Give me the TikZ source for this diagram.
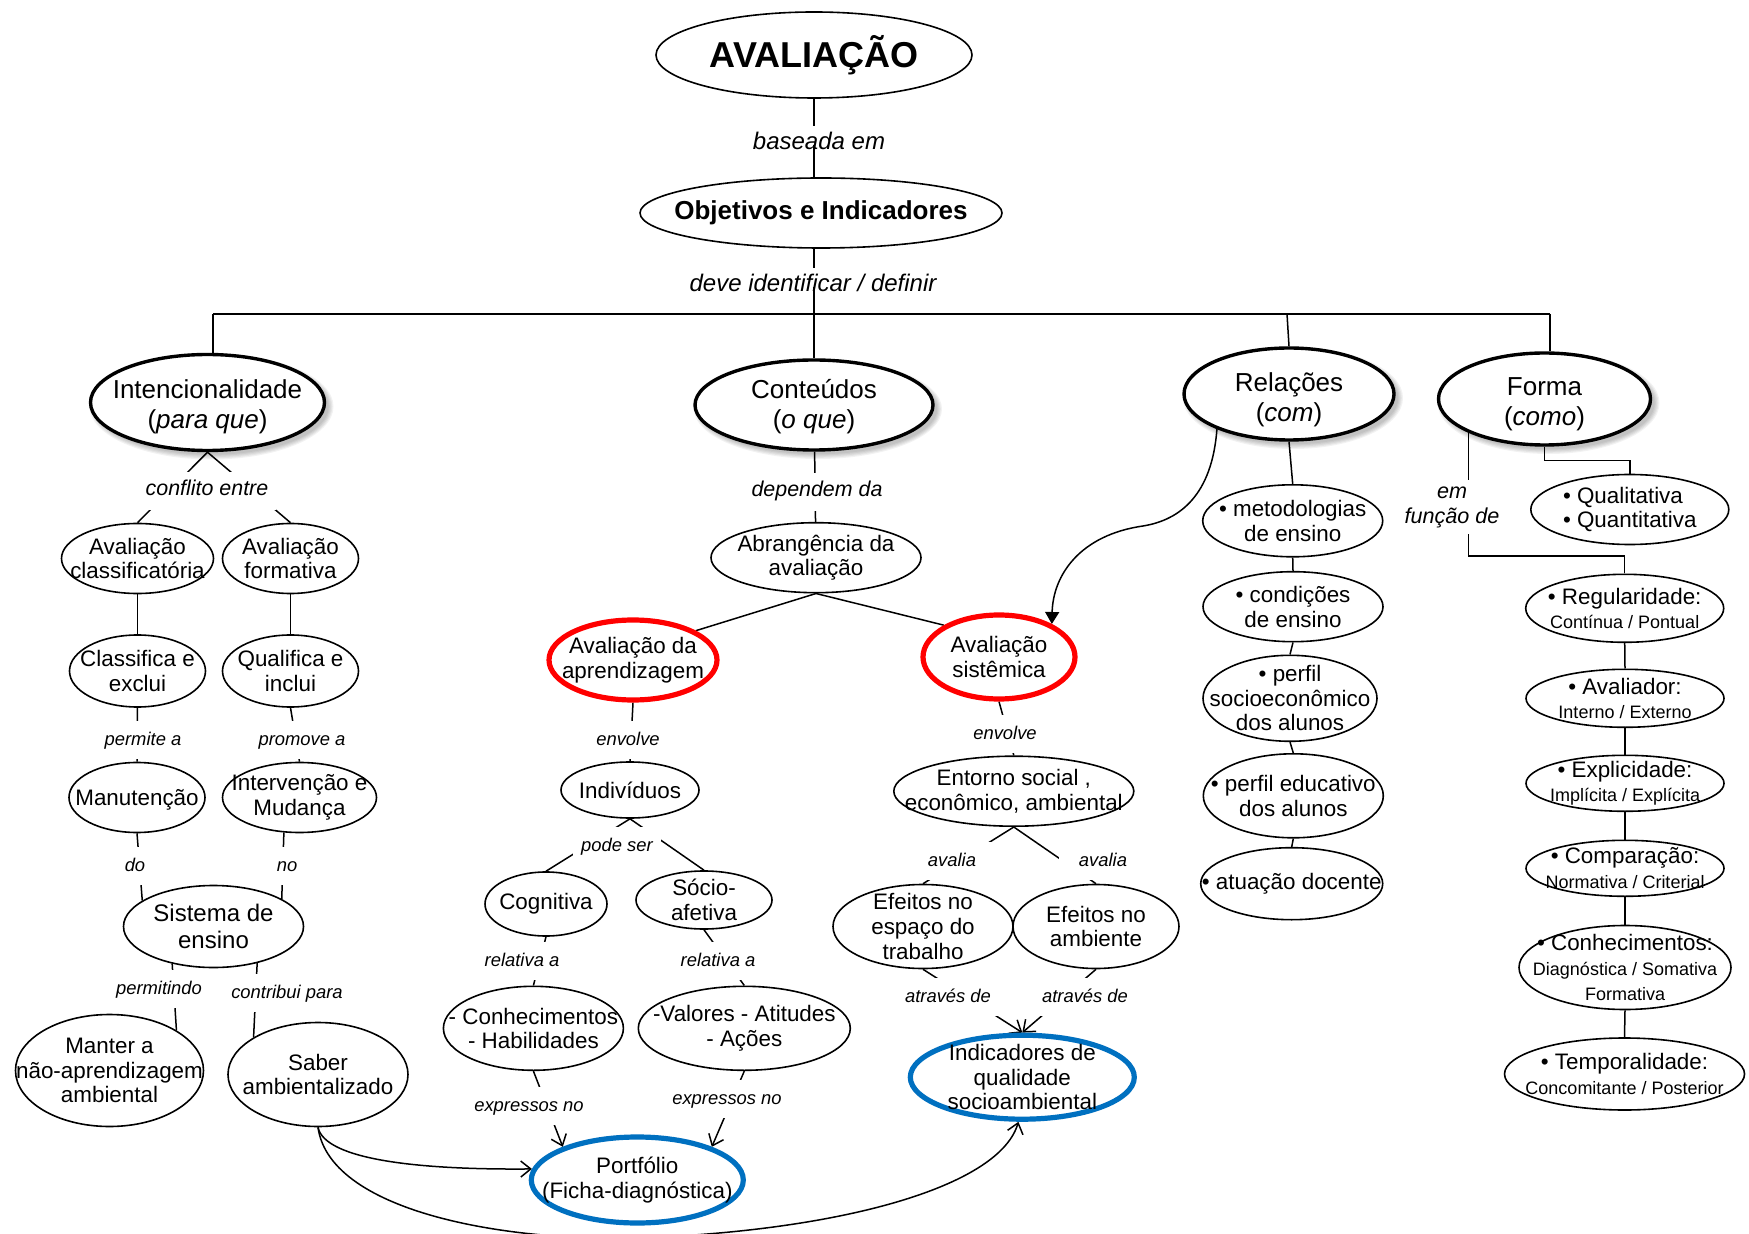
\documentclass[tikz,border=0pt]{standalone}
\usepackage{fontspec}
\setmainfont{Liberation Sans}
\usetikzlibrary{shapes.geometric,arrows.meta}
\pgfdeclarelayer{bg}
\pgfsetlayers{bg,main}
\definecolor{cred}{HTML}{FF0000}
\definecolor{cblue}{HTML}{0070C0}
\tikzset{
 ell/.style={ellipse,draw,fill=white,inner sep=0pt,line width=0.8pt},
 cat/.style={line width=1.7pt},
 redb/.style={draw=cred,line width=2.6pt},
 blueb/.style={draw=cblue,line width=2.6pt},
 txt/.style={align=center,inner sep=0pt,font=\fontsize{11.2}{12.3}\selectfont},
 cattxt/.style={font=\fontsize{13}{15}\selectfont},
 lab/.style={fill=white,inner xsep=4pt,inner ysep=4.5pt,text height=0.75em,text depth=0.25em,font=\itshape\fontsize{9.2}{10}\selectfont},
 labmid/.style={font=\itshape\fontsize{10.7}{12}\selectfont},
 labtop/.style={font=\itshape\fontsize{12}{14}\selectfont},
 labm/.style={fill=white,align=center,inner xsep=4pt,inner ysep=3pt,font=\itshape\fontsize{10.8}{12.5}\selectfont},
 conn/.style={line width=0.75pt},
 oarr/.style={-{Straight Barb[length=5pt,width=8pt]}},
}
\newcommand\CN[7][]{%
 \node[ell,#1,minimum width=#4pt,minimum height=#5pt] (#2) at (#3) {};%
 \node[txt,#6] (#2t) at (#2.center) {#7};}
\newcommand\smalltxt[1]{{\fontsize{9}{10}\selectfont #1}}
% soft shadow of a thick category ellipse: node name, x radius (pt), y radius (pt)
\newcommand\SHD[3]{%
 \foreach \k in {0,1,2,3,4}{%
  \fill[black,opacity=0.05] ([shift={(2pt,-2pt)}]#1.center) ellipse [x radius={#2pt+2.5pt-\k*0.6pt}, y radius={#3pt+2.5pt-\k*0.6pt}];}}
\begin{document}
\begin{tikzpicture}[x=0.5pt,y=-0.5pt]
\begin{pgfonlayer}{bg}
\fill[white] (0,0) rectangle (1749,1234);
\end{pgfonlayer}
\useasboundingbox (0,0) rectangle (1749,1234);

% ---------- concepts ----------
\CN{av}{814,55}{158}{43}{font=\bfseries\fontsize{18}{20}\selectfont}{AVALIAÇÃO}
\CN{obj}{821,213}{181}{35}{font=\bfseries\fontsize{13}{15}\selectfont}{Objetivos e Indicadores}
\CN[cat]{intenc}{207.5,402.5}{117}{48}{cattxt,yshift=-2pt}{Intencionalidade\\(\textit{para que})}
\CN[cat]{cont}{814,405}{119}{45}{cattxt,yshift=-1pt}{Conteúdos\\(\textit{o que})}
\CN[cat]{rel}{1289,394}{105}{46}{cattxt,yshift=-3pt}{Relações\\(\textit{com})}
\CN[cat]{forma}{1544.5,399}{106}{46}{cattxt,yshift=-2.5pt}{Forma\\(\textit{como})}

\CN{avclass}{137.5,558.5}{76}{35}{}{Avaliação\\classificatória}
\CN{avform}{290.5,558.5}{68}{35}{}{Avaliação\\formativa}
\CN{classif}{137.5,671}{68}{36}{}{Classifica e\\exclui}
\CN{qualif}{290.5,671}{68}{36}{}{Qualifica e\\inclui}
\CN{manut}{137,797.5}{68}{35}{yshift=-1pt}{Manutenção}
\CN{interv}{299.5,797.5}{77}{35}{}{Intervenção e\\Mudança}
\CN{sistema}{213.5,926.5}{90}{41}{font=\fontsize{12}{13.5}\selectfont}{Sistema de\\ensino}
\CN{manter}{109.5,1070.5}{94}{56}{}{Manter a\\não-aprendizagem\\ambiental}
\CN{saber}{318,1074.5}{90}{52}{}{Saber\\ambientalizado}

\CN{abr}{816,557.7}{105}{35}{}{Abrangência da\\avaliação}
\CN[redb]{avaprend}{633,660}{84}{40}{}{Avaliação da\\aprendizagem}
\CN[redb]{avsist}{999,657}{76}{42}{}{Avaliação\\sistêmica}
\CN{indiv}{630,790}{69}{28}{}{Indivíduos}
\CN{cogn}{546,904}{61}{32}{}{Cognitiva}
\CN{socio}{704,900}{68}{29}{}{Sócio-\\afetiva}
\CN{conhec}{533.4,1028.3}{90}{42}{}{- Conhecimentos\\- Habilidades}
\CN{valores}{744.3,1028.3}{106}{42}{}{-Valores - Atitudes\\- Ações}
\CN[blueb]{portf}{637.3,1180}{106}{43}{}{Portfólio\\(Ficha-diagnóstica)}
\CN{entorno}{1013.8,791.2}{120}{35}{}{Entorno social ,\\econômico, ambiental}
\CN{ef1}{923,926.5}{90}{42}{}{Efeitos no\\espaço do\\trabalho}
\CN{ef2}{1096,926.5}{83}{42}{}{Efeitos no\\ambiente}
\CN[blueb]{ind}{1022.3,1077.2}{112}{42}{}{Indicadores de\\qualidade\\socioambiental}

\CN{metod}{1292.7,520.8}{90}{36}{}{• metodologias\\de ensino}
\CN{cond}{1293,606.7}{90}{35}{}{• condições\\de ensino}
\CN{psocio}{1290,698.3}{87}{43}{}{• perfil\\socioeconômico\\dos alunos}
\CN{pedu}{1293.3,795.8}{90}{42}{}{• perfil educativo\\dos alunos}
\CN{atua}{1291.7,883.7}{91}{36}{}{• atuação docente}

\CN{qual}{1629.8,509.5}{99}{35}{align=left}{• Qualitativa\\• Quantitativa}
\CN{reg}{1624.7,608.3}{99}{34}{}{• Regularidade:\\\smalltxt{Contínua / Pontual}}
\CN{aval}{1625,698.3}{99}{29}{}{• Avaliador:\\\smalltxt{Interno / Externo}}
\CN{expl}{1625,783.3}{99}{28}{}{• Explicidade:\\\smalltxt{Implícita / Explícita}}
\CN{comp}{1625,868.3}{99}{28}{}{• Comparação:\\\smalltxt{Normativa / Criterial}}
\CN{conh2}{1625,967.5}{106}{42}{}{• Conhecimentos:\\\smalltxt{Diagnóstica / Somativa}\\\smalltxt{Formativa}}
\CN{temp}{1624.5,1074}{120}{36}{}{• Temporalidade:\\\smalltxt{Concomitante / Posterior}}

% ---------- linking phrases ----------
\node[lab,labtop,fill=none] (bas) at (819,145) {baseada em};
\node[lab,labtop,fill=none] (dev) at (813,287) {deve identificar / definir};
\node[lab,labmid] (confl) at (207,491) {conflito entre};
\node[lab] (perm) at (143,740) {permite a};
\node[lab] (prom) at (302,740) {promove a};
\node[lab] (ldo) at (135,866) {do};
\node[lab] (lno) at (287,866) {no};
\node[lab] (permt) at (159,989) {permitindo};
\node[lab] (contr) at (287,993) {contribui para};
\node[lab,labmid] (dep) at (817,492) {dependem da};
\node[lab] (env1) at (628,740) {envolve};
\node[lab] (pode) at (617,846) {pode ser};
\node[lab] (rela1) at (522,961) {relativa a};
\node[lab] (rela2) at (718,961) {relativa a};
\node[lab] (exp1) at (529,1106) {expressos no};
\node[lab] (exp2) at (727,1099) {expressos no};
\node[lab] (env2) at (1005,734) {envolve};
\node[lab,inner xsep=10pt] (ava1) at (952,861) {avalia};
\node[lab,inner xsep=10pt] (ava2) at (1103,861) {avalia};
\node[lab] (atr1) at (948,997) {através de};
\node[lab] (atr2) at (1085,997) {através de};
\node[labm] (func) at (1452,507) {em\\função de};

\coordinate (bl) at (213,314);
\coordinate (br) at (1550,314);
\coordinate (b3) at (1287,314);
\coordinate (fk) at (1470,556);

% ---------- shadows and connectors ----------
\begin{pgfonlayer}{bg}
\SHD{intenc}{58.5}{24}
\SHD{cont}{59.5}{22.5}
\SHD{rel}{52.5}{23}
\SHD{forma}{53}{23}

\draw[conn] (av.south) -- (av.south |- bas.north);
\draw[conn] (av.south |- bas.center) -- (av.south |- obj.north);
\draw[conn] (cont.north |- obj.south) -- (cont.north |- dev.north);
\draw[conn] (cont.north |- dev.center) -- (cont.north);
\draw[line width=1.1pt] (bl) -- (br);
\draw[conn] (bl) -- (bl |- intenc.north);
\draw[conn] (b3) -- (rel.north);
\draw[conn] (br) -- (br |- forma.north);

\draw[conn] (intenc.south) -- (avclass.north);
\draw[conn] (intenc.south) -- (avform.north);
\draw[conn] (avclass) -- (classif);
\draw[conn] (avform) -- (qualif);
\draw[conn] (classif) -- (manut);
\draw[conn] (qualif.south) -- (interv.north);
\draw[conn] (manut.south) -- (sistema.160);
\draw[conn] (interv.246) -- (sistema.22);
\draw[conn] (sistema.222) -- (manter.31);
\draw[conn] (sistema.320) -- (saber.150);
\draw[conn,oarr] (saber.south) .. controls (325,1160) and (420,1170) .. (portf.174);
\draw[conn,oarr] (saber.south) .. controls (330,1215) and (520,1245) .. (660,1237) .. controls (850,1228) and (1000,1185) .. (ind.265);

\draw[conn] (cont) -- (abr);
\draw[conn] (abr.south) -- (avaprend.25);
\draw[conn] (abr.south) -- (avsist.150);
\draw[conn] (avaprend.south) -- (indiv.north);
\draw[conn] (indiv.south) -- (cogn.north);
\draw[conn] (indiv.south) -- (socio.north);
\draw[conn] (cogn.south) -- (conhec.north);
\draw[conn] (socio.south) -- (valores.north);
\draw[conn,oarr] (conhec.south) -- (portf.156);
\draw[conn,oarr] (valores.south) -- (portf.24);
\draw[conn] (avsist.south) -- (entorno.north);
\draw[conn] (entorno.south) -- (ef1.north);
\draw[conn] (entorno.south) -- (ef2.north);
\draw[conn,oarr] (ef1.south) -- (ind.north);
\draw[conn,oarr] (ef2.south) -- (ind.north);

\draw[conn,-{Triangle[length=6pt,width=7pt]}] (rel.206) .. controls (1212,495) and (1180,520) .. (1143,526) .. controls (1080,535) and (1053,575) .. (avsist.32);
\draw[conn] (rel.south) -- (metod.north);
\draw[conn] (metod.south) -- (cond.north);
\draw[conn] (cond.south) -- (psocio.north);
\draw[conn] (psocio.south) -- (pedu.north);
\draw[conn] (pedu.south) -- (atua.north);

\draw[conn] (forma.204) -- (forma.204 |- fk) -| (reg.north);
\draw[conn] (forma.south) -- ++(0,14) -| (qual.north);
\draw[conn] (reg.south) -- (aval.north);
\draw[conn] (aval.south) -- (expl.north);
\draw[conn] (expl.south) -- (comp.north);
\draw[conn] (comp.south) -- (conh2.north);
\draw[conn] (conh2.south) -- (temp.north);
\end{pgfonlayer}
\end{tikzpicture}
\end{document}
